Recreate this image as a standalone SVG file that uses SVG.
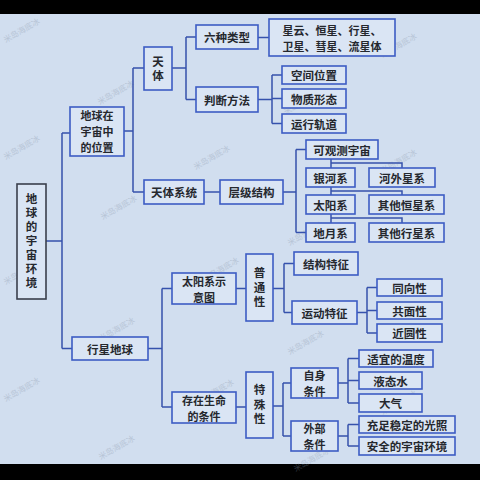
<svg xmlns="http://www.w3.org/2000/svg" width="480" height="480" viewBox="0 0 480 480">
<style>
.b{fill:#dae5f4;stroke:#3c5cc4;stroke-width:1.6}
.r{fill:#dae5f4;stroke:#3a3f4c;stroke-width:1.6}
.t{font-family:"Noto Sans CJK SC","Noto Sans CJK JP",sans-serif;font-size:11.5px;font-weight:bold;fill:#25282e;text-anchor:middle;dominant-baseline:central}
.m{font-size:11px}
.v{writing-mode:vertical-rl;text-orientation:upright}
.c{fill:none;stroke:#3652ac;stroke-width:1.5}
.w{font-family:"Noto Sans CJK SC",sans-serif;font-size:8px;fill:#8a96aa;opacity:0.35;text-anchor:middle}
</style>
<rect x="0" y="0" width="480" height="480" fill="#000"/>
<rect x="0" y="14" width="480" height="450" fill="#d1deef"/>
<g id="watermarks">
<text class="w" transform="translate(23,33) rotate(-30)">米岛海底冰</text>
<text class="w" transform="translate(117,95) rotate(-30)">米岛海底冰</text>
<text class="w" transform="translate(23,150) rotate(-30)">米岛海底冰</text>
<text class="w" transform="translate(213,160) rotate(-30)">米岛海底冰</text>
<text class="w" transform="translate(120,210) rotate(-30)">米岛海底冰</text>
<text class="w" transform="translate(400,48) rotate(-30)">米岛海底冰</text>
<text class="w" transform="translate(303,105) rotate(-30)">米岛海底冰</text>
<text class="w" transform="translate(400,164) rotate(-30)">米岛海底冰</text>
<text class="w" transform="translate(307,236) rotate(-30)">米岛海底冰</text>
<text class="w" transform="translate(23,275) rotate(-30)">米岛海底冰</text>
<text class="w" transform="translate(118,332) rotate(-30)">米岛海底冰</text>
<text class="w" transform="translate(23,392) rotate(-30)">米岛海底冰</text>
<text class="w" transform="translate(217,394) rotate(-30)">米岛海底冰</text>
<text class="w" transform="translate(118,450) rotate(-30)">米岛海底冰</text>
<text class="w" transform="translate(307,345) rotate(-30)">米岛海底冰</text>
<text class="w" transform="translate(222,272) rotate(-30)">米岛海底冰</text>
<text class="w" transform="translate(400,405) rotate(-30)">米岛海底冰</text>
<text class="w" transform="translate(313,462) rotate(-30)">米岛海底冰</text>
</g>
<g id="connectors" class="c">
<path d="M46 241H62M62 133V348.5M62 133H70M62 348.5H72"/>
<path d="M124 131H133M133 68V192M133 68H144M133 192H144"/>
<path d="M172 68H186M186 37V99.5M186 37H196M186 99.5H196"/>
<path d="M258 37.5H269"/>
<path d="M258 99.5H272M272 75V123.5M272 75H282M272 98.5H282M272 123.5H282"/>
<path d="M204 192H220"/>
<path d="M283 192H296M296 149.5V232.5M296 149.5H306M296 232.5H306"/>
<path d="M331 159V168M331 163H402V168M331 187V195M331 191H402V195M331 214V223M331 218H402V223"/>
<path d="M148 348.5H162M162 288.5V407M162 288.5H172M162 407H172"/>
<path d="M236 288.5H246M236 407H246"/>
<path d="M273 288.5H284M284 263.5V312.5M284 263.5H294M284 312.5H292"/>
<path d="M357 312.5H367M367 287.5V333M367 287.5H377M367 310.5H377M367 333H377"/>
<path d="M273 406H283M283 383V436M283 383H291M283 436H291"/>
<path d="M338 383H348M348 358.5V403M348 358.5H359M348 380.5H359M348 403H359"/>
<path d="M338 436H348M348 424.5V446M348 424.5H359M348 446H359"/>
</g>
<g id="root"><rect class="r" x="17" y="184" width="29" height="115"/>
<text class="t v" x="31.5" y="242" letter-spacing="2.5">地球的宇宙环境</text></g>
<g id="n_position"><rect class="b" x="70" y="107" width="54" height="49"/>
<text class="t m"><tspan x="97" y="115">地球在</tspan><tspan x="97" y="131">宇宙中</tspan><tspan x="97" y="147">的位置</tspan></text></g>
<g id="n_planet"><rect class="b" x="72" y="337" width="76" height="23"/><text class="t" x="110" y="348.5">行星地球</text></g>
<g id="n_body"><rect class="b" x="144" y="47" width="28" height="43"/><text class="t v" x="158" y="70" letter-spacing="2.5">天体</text></g>
<g id="n_system"><rect class="b" x="144" y="180" width="60" height="24"/><text class="t" x="174" y="192">天体系统</text></g>
<g id="n_six"><rect class="b" x="196" y="25" width="62" height="24"/><text class="t" x="227" y="37">六种类型</text></g>
<g id="n_judge"><rect class="b" x="196" y="87" width="62" height="25"/><text class="t" x="227" y="99.5">判断方法</text></g>
<g id="n_list"><rect class="b" x="269" y="19" width="126" height="37"/><text class="t m"><tspan x="332" y="29.5">星云、恒星、行星、</tspan><tspan x="332" y="45.5">卫星、彗星、流星体</tspan></text></g>
<g id="n_space"><rect class="b" x="282" y="66" width="64" height="18"/><text class="t" x="314" y="75">空间位置</text></g>
<g id="n_matter"><rect class="b" x="282" y="89" width="64" height="19"/><text class="t" x="314" y="98.5">物质形态</text></g>
<g id="n_orbit"><rect class="b" x="282" y="114" width="64" height="19"/><text class="t" x="314" y="123.5">运行轨道</text></g>
<g id="n_level"><rect class="b" x="220" y="180" width="63" height="24"/><text class="t" x="251.5" y="192">层级结构</text></g>
<g id="n_obs"><rect class="b" x="306" y="140" width="72" height="19"/><text class="t" x="342" y="149.5">可观测宇宙</text></g>
<g id="n_milky"><rect class="b" x="306" y="168" width="49" height="19"/><text class="t" x="330.5" y="177.5">银河系</text></g>
<g id="n_extra"><rect class="b" x="369" y="168" width="66" height="19"/><text class="t" x="402" y="177.5">河外星系</text></g>
<g id="n_solar"><rect class="b" x="306" y="195" width="49" height="19"/><text class="t" x="330.5" y="204.5">太阳系</text></g>
<g id="n_otherstar"><rect class="b" x="369" y="195" width="75" height="19"/><text class="t" x="406.5" y="204.5">其他恒星系</text></g>
<g id="n_earthmoon"><rect class="b" x="306" y="223" width="49" height="19"/><text class="t" x="330.5" y="232.5">地月系</text></g>
<g id="n_otherplanet"><rect class="b" x="369" y="223" width="75" height="19"/><text class="t" x="406.5" y="232.5">其他行星系</text></g>
<g id="n_diagram"><rect class="b" x="172" y="273" width="64" height="31"/><text class="t m"><tspan x="204" y="280.5">太阳系示</tspan><tspan x="204" y="296.5">意图</tspan></text></g>
<g id="n_life"><rect class="b" x="172" y="392" width="64" height="31"/><text class="t m"><tspan x="204" y="399.5">存在生命</tspan><tspan x="204" y="415.5">的条件</tspan></text></g>
<g id="n_common"><rect class="b" x="246" y="254" width="27" height="67"/><text class="t v" x="259.5" y="289" letter-spacing="3">普通性</text></g>
<g id="n_special"><rect class="b" x="246" y="372" width="27" height="66"/><text class="t v" x="259.5" y="406" letter-spacing="3">特殊性</text></g>
<g id="n_struct"><rect class="b" x="294" y="252" width="64" height="23"/><text class="t" x="326" y="263.5">结构特征</text></g>
<g id="n_motion"><rect class="b" x="292" y="301" width="65" height="23"/><text class="t" x="324.5" y="312.5">运动特征</text></g>
<g id="n_same"><rect class="b" x="377" y="279" width="65" height="17"/><text class="t" x="409.5" y="287.5">同向性</text></g>
<g id="n_plane"><rect class="b" x="377" y="302" width="65" height="17"/><text class="t" x="409.5" y="310.5">共面性</text></g>
<g id="n_circle"><rect class="b" x="377" y="324" width="65" height="18"/><text class="t" x="409.5" y="333">近圆性</text></g>
<g id="n_self"><rect class="b" x="291" y="368" width="47" height="30"/><text class="t m"><tspan x="314.5" y="375">自身</tspan><tspan x="314.5" y="391">条件</tspan></text></g>
<g id="n_ext"><rect class="b" x="291" y="421" width="47" height="30"/><text class="t m"><tspan x="314.5" y="428">外部</tspan><tspan x="314.5" y="444">条件</tspan></text></g>
<g id="n_temp"><rect class="b" x="359" y="350" width="74" height="17"/><text class="t" x="396" y="358.5">适宜的温度</text></g>
<g id="n_water"><rect class="b" x="359" y="372" width="63" height="17"/><text class="t" x="390.5" y="380.5">液态水</text></g>
<g id="n_air"><rect class="b" x="359" y="394" width="63" height="18"/><text class="t" x="390.5" y="403">大气</text></g>
<g id="n_light"><rect class="b" x="359" y="416" width="96" height="17"/><text class="t" x="407" y="424.5">充足稳定的光照</text></g>
<g id="n_safe"><rect class="b" x="359" y="437" width="96" height="18"/><text class="t" x="407" y="446">安全的宇宙环境</text></g>
</svg>
